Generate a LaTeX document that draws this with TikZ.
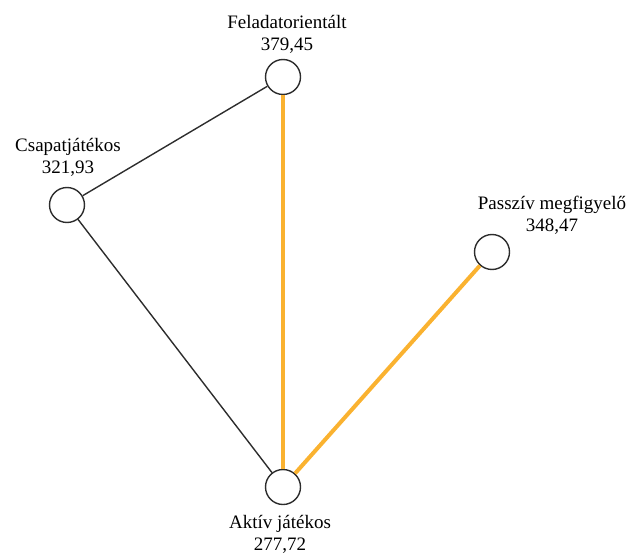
\documentclass[tikz,border=0pt]{standalone}
\usepackage{fontspec}
\setmainfont{Liberation Serif}
\usepackage{tikz}
\definecolor{NarancsSarga}{RGB}{250,178,48}
\definecolor{SzurkeVonal}{RGB}{45,45,45}

\begin{document}
\begin{tikzpicture}[x=1pt,y=1pt,
  csucs/.style={circle,draw=SzurkeVonal,line width=1.4pt,fill=white,minimum size=35pt,inner sep=0pt},
  felirat/.style={align=center,inner sep=0pt,font=\fontsize{19}{22}\selectfont},
  fekete/.style={SzurkeVonal,line width=1.4pt},
  narancs/.style={NarancsSarga,line width=4pt}]
  \useasboundingbox (0,0) rectangle (636,555);
  % csucsok
  \node[csucs] (felad) at (283,478) {};
  \node[csucs] (csapat) at (67,350) {};
  \node[csucs] (passziv) at (492,303) {};
  \node[csucs] (aktiv) at (283,68) {};
  % feliratok
  \node[felirat,anchor=south] (feladLbl) at (287,501) {Feladatorientált\\379,45};
  \node[felirat,anchor=south] (csapatLbl) at (68,378) {Csapatjátékos\\321,93};
  \node[felirat,anchor=south] (passzivLbl) at (552,320) {Passzív megfigyelő\\348,47};
  \node[felirat,anchor=north] (aktivLbl) at (280,40) {Aktív játékos\\277,72};
  % elek
  \draw[fekete] (csapat) -- (felad);
  \draw[fekete] (csapat) -- (aktiv);
  \draw[narancs] (felad) -- (aktiv);
  \draw[narancs] (passziv) -- (aktiv);
\end{tikzpicture}
\end{document}
